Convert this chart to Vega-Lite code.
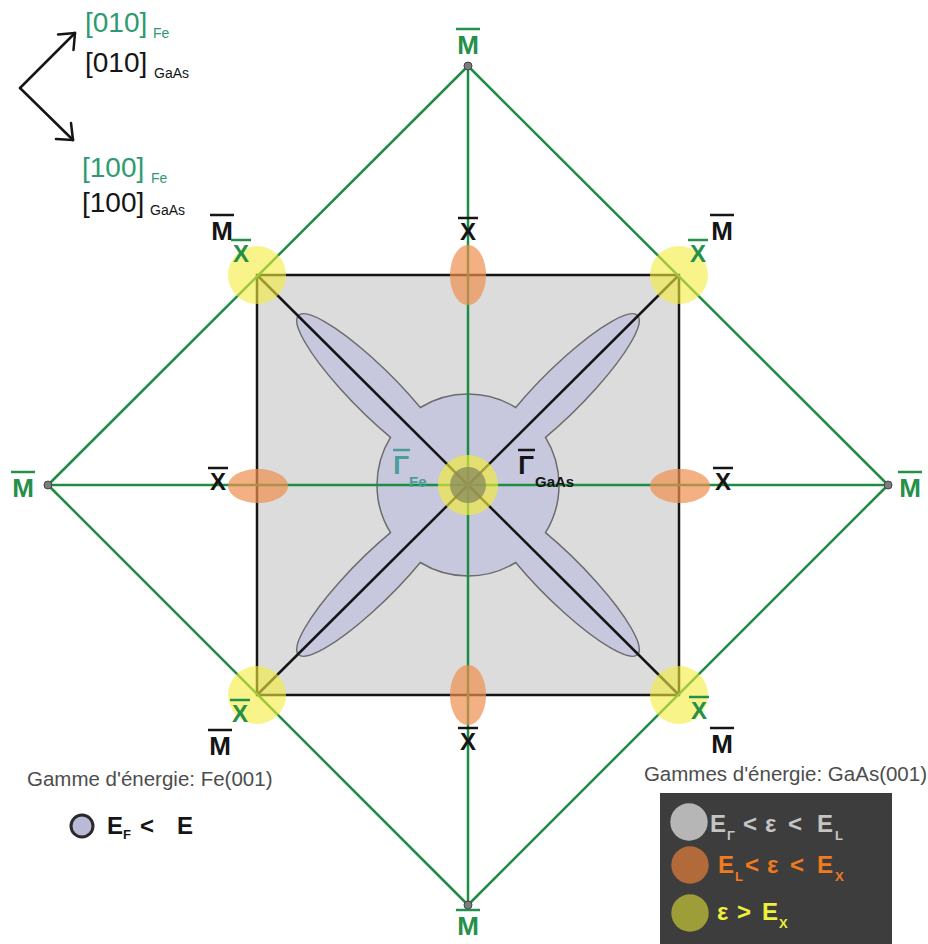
{
  "$schema": "https://vega.github.io/schema/vega-lite/v6.json",
  "width": 928,
  "height": 944,
  "padding": 0,
  "autosize": {"type": "none"},
  "background": "white",
  "config": {"view": {"stroke": null}, "text": {"font": "Liberation Sans"}},
  "datasets": {
    "square": [{"x": -211, "y": 210, "x2": 211, "y2": -210}],
    "lines": [
      {"x": 0, "y": 419, "x2": 420, "y2": 0, "set": "Fe"},
      {"x": 420, "y": 0, "x2": 0, "y2": -420, "set": "Fe"},
      {"x": 0, "y": -420, "x2": -420, "y2": 0, "set": "Fe"},
      {"x": -420, "y": 0, "x2": 0, "y2": 419, "set": "Fe"},
      {"x": -420, "y": 0, "x2": 420, "y2": 0, "set": "Fe"},
      {"x": 0, "y": 419, "x2": 0, "y2": -420, "set": "Fe"},
      {"x": -211, "y": 210, "x2": 211, "y2": -210, "set": "GaAs"},
      {"x": 211, "y": 210, "x2": -211, "y2": -210, "set": "GaAs"},
      {"x": -448, "y": 397, "x2": -393, "y2": 452, "set": "arrow"},
      {"x": -393, "y": 452, "x2": -410, "y2": 450.5, "set": "arrow"},
      {"x": -393, "y": 452, "x2": -394.5, "y2": 435, "set": "arrow"},
      {"x": -448, "y": 397, "x2": -395, "y2": 345, "set": "arrow"},
      {"x": -395, "y": 345, "x2": -412, "y2": 346, "set": "arrow"},
      {"x": -395, "y": 345, "x2": -397, "y2": 362, "set": "arrow"}
    ],
    "spots": [
      {"x": 0, "y": 0, "kind": "flower"},
      {"x": -211, "y": 210, "kind": "corner"},
      {"x": 211, "y": 210, "kind": "corner"},
      {"x": -211, "y": -210, "kind": "corner"},
      {"x": 211, "y": -210, "kind": "corner"},
      {"x": 0, "y": 210, "kind": "ellV"},
      {"x": 0, "y": -210, "kind": "ellV"},
      {"x": -210, "y": -1, "kind": "ellH"},
      {"x": 212, "y": -1, "kind": "ellH"},
      {"x": 0, "y": 0, "kind": "centre"},
      {"x": 0, "y": 419, "kind": "M"},
      {"x": 0, "y": -420, "kind": "M"},
      {"x": -420, "y": 0, "kind": "M"},
      {"x": 420, "y": 0, "kind": "M"}
    ],
    "labels": [
      {"x": 0, "y": 439, "text": "M", "type": "M", "tone": "Fe"},
      {"x": 0, "y": -442, "text": "M", "type": "M", "tone": "Fe"},
      {"x": -445, "y": -4, "text": "M", "type": "M", "tone": "Fe"},
      {"x": 442, "y": -4, "text": "M", "type": "M", "tone": "Fe"},
      {"x": -246, "y": 253, "text": "M", "type": "M", "tone": "GaAs"},
      {"x": 254, "y": 253, "text": "M", "type": "M", "tone": "GaAs"},
      {"x": -248, "y": -262, "text": "M", "type": "M", "tone": "GaAs"},
      {"x": 254, "y": -260, "text": "M", "type": "M", "tone": "GaAs"},
      {"x": 0, "y": 252, "text": "X", "type": "X", "tone": "GaAs"},
      {"x": 0, "y": -258, "text": "X", "type": "X", "tone": "GaAs"},
      {"x": -250, "y": 2, "text": "X", "type": "X", "tone": "GaAs"},
      {"x": 255, "y": 2, "text": "X", "type": "X", "tone": "GaAs"},
      {"x": -227, "y": 230, "text": "X", "type": "X", "tone": "Fe"},
      {"x": 230, "y": 230, "text": "X", "type": "X", "tone": "Fe"},
      {"x": -228, "y": -230, "text": "X", "type": "X", "tone": "Fe"},
      {"x": 231, "y": -227, "text": "X", "type": "X", "tone": "Fe"},
      {"x": -67, "y": 19, "text": "Γ", "type": "G", "tone": "gamma"},
      {"x": 58, "y": 19, "text": "Γ", "type": "G", "tone": "GaAs"}
    ],
    "dirTexts": [
      {"x": -383, "y": 453, "text": "[010]", "tone": "FeDir", "level": "dir"},
      {"x": -315, "y": 447, "text": "Fe", "tone": "FeDir", "level": "sub"},
      {"x": -383, "y": 413, "text": "[010]", "tone": "GaAs", "level": "dir"},
      {"x": -314, "y": 407, "text": "GaAs", "tone": "GaAs", "level": "sub"},
      {"x": -386, "y": 308, "text": "[100]", "tone": "FeDir", "level": "dir"},
      {"x": -317, "y": 302, "text": "Fe", "tone": "FeDir", "level": "sub"},
      {"x": -386, "y": 273, "text": "[100]", "tone": "GaAs", "level": "dir"},
      {"x": -318, "y": 270, "text": "GaAs", "tone": "GaAs", "level": "sub"}
    ],
    "captions": [
      {"x": -441, "y": -301, "text": "Gamme d'énergie: Fe(001)", "side": "Fe"},
      {"x": 459, "y": -296, "text": "Gammes d'énergie: GaAs(001)", "side": "GaAs"}
    ],
    "boldTexts": [
      {"x": -59, "y": -2, "text": "Fe", "tone": "gamma", "level": "gsub"},
      {"x": 67, "y": -2, "text": "GaAs", "tone": "GaAs", "level": "gsub"},
      {"x": -361, "y": -349, "text": "E", "tone": "GaAs", "level": "key"},
      {"x": -345, "y": -354, "text": "F", "tone": "GaAs", "level": "sub"},
      {"x": -328, "y": -349, "text": "<", "tone": "GaAs", "level": "key"},
      {"x": -291, "y": -349, "text": "E", "tone": "GaAs", "level": "key"},
      {"x": 242, "y": -347, "text": "E", "tone": "light", "level": "key"},
      {"x": 259, "y": -355, "text": "Γ", "tone": "light", "level": "sub"},
      {"x": 275, "y": -347, "text": "<", "tone": "light", "level": "key"},
      {"x": 297, "y": -347, "text": "ε", "tone": "light", "level": "key"},
      {"x": 320, "y": -347, "text": "<", "tone": "light", "level": "key"},
      {"x": 349, "y": -347, "text": "E", "tone": "light", "level": "key"},
      {"x": 367, "y": -355, "text": "L", "tone": "light", "level": "sub"},
      {"x": 250, "y": -388, "text": "E", "tone": "orange", "level": "key"},
      {"x": 267, "y": -396, "text": "L", "tone": "orange", "level": "sub"},
      {"x": 277, "y": -388, "text": "<", "tone": "orange", "level": "key"},
      {"x": 299, "y": -388, "text": "ε", "tone": "orange", "level": "key"},
      {"x": 322, "y": -388, "text": "<", "tone": "orange", "level": "key"},
      {"x": 349, "y": -388, "text": "E", "tone": "orange", "level": "key"},
      {"x": 367, "y": -396, "text": "X", "tone": "orange", "level": "sub"},
      {"x": 249, "y": -435, "text": "ε", "tone": "yellow", "level": "key"},
      {"x": 269, "y": -435, "text": ">", "tone": "yellow", "level": "key"},
      {"x": 294, "y": -435, "text": "E", "tone": "yellow", "level": "key"},
      {"x": 311, "y": -443, "text": "X", "tone": "yellow", "level": "sub"}
    ],
    "box": [{"x": 192, "y": -308, "x2": 424, "y2": -459}],
    "keys": [
      {"x": -386, "y": -341, "kind": "Fe"},
      {"x": 221, "y": -337, "kind": "r1"},
      {"x": 222, "y": -380, "kind": "r2"},
      {"x": 222, "y": -428, "kind": "r3"}
    ]
  },
  "layer": [
    {
      "data": {"name": "square"},
      "mark": {"type": "rect", "fill": "#dcdcdc", "stroke": "#151515", "strokeWidth": 2.5},
      "encoding": {
        "x": {"field": "x", "type": "quantitative", "scale": {"domain": [-468, 460], "nice": false, "zero": false}, "axis": null},
        "y": {"field": "y", "type": "quantitative", "scale": {"domain": [-459, 485], "nice": false, "zero": false}, "axis": null},
        "x2": {"field": "x2"},
        "y2": {"field": "y2"}
      }
    },
    {
      "data": {"name": "spots"},
      "transform": [{"filter": "datum.kind === 'flower'"}],
      "mark": {"type": "point", "shape": "M 47.7 77.5 A 91 91 0 0 1 -47.7 77.5 A 108 23 135 1 1 -77.5 47.7 A 91 91 0 0 1 -77.5 -47.7 A 108 23 225 1 1 -47.7 -77.5 A 91 91 0 0 1 47.7 -77.5 A 108 23 315 1 1 77.5 -47.7 A 91 91 0 0 1 77.5 47.7 A 108 23 45 1 1 47.7 77.5 Z", "size": 4, "filled": true, "fill": "#c7c7dd", "stroke": "#6c6c6c", "strokeWidth": 1.5, "opacity": 1},
      "encoding": {
        "x": {"field": "x", "type": "quantitative", "scale": {"domain": [-468, 460], "nice": false, "zero": false}, "axis": null},
        "y": {"field": "y", "type": "quantitative", "scale": {"domain": [-459, 485], "nice": false, "zero": false}, "axis": null}
      }
    },
    {
      "data": {"name": "lines"},
      "transform": [{"filter": "datum.set === 'GaAs'"}],
      "mark": {"type": "rule", "stroke": "#151515", "strokeWidth": 2.5},
      "encoding": {
        "x": {"field": "x", "type": "quantitative", "scale": {"domain": [-468, 460], "nice": false, "zero": false}, "axis": null},
        "y": {"field": "y", "type": "quantitative", "scale": {"domain": [-459, 485], "nice": false, "zero": false}, "axis": null},
        "x2": {"field": "x2"},
        "y2": {"field": "y2"}
      }
    },
    {
      "data": {"name": "lines"},
      "transform": [{"filter": "datum.set === 'Fe'"}],
      "mark": {"type": "rule", "stroke": "#1f8c44", "strokeWidth": 2.5},
      "encoding": {
        "x": {"field": "x", "type": "quantitative", "scale": {"domain": [-468, 460], "nice": false, "zero": false}, "axis": null},
        "y": {"field": "y", "type": "quantitative", "scale": {"domain": [-459, 485], "nice": false, "zero": false}, "axis": null},
        "x2": {"field": "x2"},
        "y2": {"field": "y2"}
      }
    },
    {
      "data": {"name": "spots"},
      "transform": [{"filter": "datum.kind === 'corner'"}],
      "mark": {"type": "point", "shape": "circle", "size": 3364, "filled": true, "fill": "#f3ec3a", "strokeWidth": 0, "opacity": 0.6},
      "encoding": {
        "x": {"field": "x", "type": "quantitative", "scale": {"domain": [-468, 460], "nice": false, "zero": false}, "axis": null},
        "y": {"field": "y", "type": "quantitative", "scale": {"domain": [-459, 485], "nice": false, "zero": false}, "axis": null}
      }
    },
    {
      "data": {"name": "spots"},
      "transform": [{"filter": "datum.kind === 'ellV'"}],
      "mark": {"type": "point", "shape": "M 0 -30 A 18 30 0 1 1 0 30 A 18 30 0 1 1 0 -30 Z", "size": 4, "filled": true, "fill": "#ee8e4e", "strokeWidth": 0, "opacity": 0.7},
      "encoding": {
        "x": {"field": "x", "type": "quantitative", "scale": {"domain": [-468, 460], "nice": false, "zero": false}, "axis": null},
        "y": {"field": "y", "type": "quantitative", "scale": {"domain": [-459, 485], "nice": false, "zero": false}, "axis": null}
      }
    },
    {
      "data": {"name": "spots"},
      "transform": [{"filter": "datum.kind === 'ellH'"}],
      "mark": {"type": "point", "shape": "M -30 0 A 30 17 0 1 1 30 0 A 30 17 0 1 1 -30 0 Z", "size": 4, "filled": true, "fill": "#ee8e4e", "strokeWidth": 0, "opacity": 0.7},
      "encoding": {
        "x": {"field": "x", "type": "quantitative", "scale": {"domain": [-468, 460], "nice": false, "zero": false}, "axis": null},
        "y": {"field": "y", "type": "quantitative", "scale": {"domain": [-459, 485], "nice": false, "zero": false}, "axis": null}
      }
    },
    {
      "data": {"name": "spots"},
      "transform": [{"filter": "datum.kind === 'centre'"}],
      "mark": {"type": "point", "shape": "circle", "size": 3600, "filled": true, "fill": "#f3ec3a", "strokeWidth": 0, "opacity": 0.65},
      "encoding": {
        "x": {"field": "x", "type": "quantitative", "scale": {"domain": [-468, 460], "nice": false, "zero": false}, "axis": null},
        "y": {"field": "y", "type": "quantitative", "scale": {"domain": [-459, 485], "nice": false, "zero": false}, "axis": null}
      }
    },
    {
      "data": {"name": "spots"},
      "transform": [{"filter": "datum.kind === 'centre'"}],
      "mark": {"type": "point", "shape": "circle", "size": 1296, "filled": true, "fill": "#8a8a5c", "strokeWidth": 0, "opacity": 0.75},
      "encoding": {
        "x": {"field": "x", "type": "quantitative", "scale": {"domain": [-468, 460], "nice": false, "zero": false}, "axis": null},
        "y": {"field": "y", "type": "quantitative", "scale": {"domain": [-459, 485], "nice": false, "zero": false}, "axis": null}
      }
    },
    {
      "data": {"name": "spots"},
      "transform": [{"filter": "datum.kind === 'M'"}],
      "mark": {"type": "point", "shape": "circle", "size": 64, "filled": true, "fill": "#7c7c7c", "stroke": "#444444", "strokeWidth": 1, "opacity": 1},
      "encoding": {
        "x": {"field": "x", "type": "quantitative", "scale": {"domain": [-468, 460], "nice": false, "zero": false}, "axis": null},
        "y": {"field": "y", "type": "quantitative", "scale": {"domain": [-459, 485], "nice": false, "zero": false}, "axis": null}
      }
    },
    {
      "data": {"name": "lines"},
      "transform": [{"filter": "datum.set === 'arrow'"}],
      "mark": {"type": "rule", "stroke": "#151515", "strokeWidth": 2.5, "strokeCap": "round"},
      "encoding": {
        "x": {"field": "x", "type": "quantitative", "scale": {"domain": [-468, 460], "nice": false, "zero": false}, "axis": null},
        "y": {"field": "y", "type": "quantitative", "scale": {"domain": [-459, 485], "nice": false, "zero": false}, "axis": null},
        "x2": {"field": "x2"},
        "y2": {"field": "y2"}
      }
    },
    {
      "data": {"name": "labels"},
      "transform": [{"filter": "datum.type === 'M'"}],
      "mark": {"type": "text", "font": "Liberation Sans", "fontWeight": "bold", "fontSize": 26, "align": "center", "baseline": "middle"},
      "encoding": {
        "x": {"field": "x", "type": "quantitative", "scale": {"domain": [-468, 460], "nice": false, "zero": false}, "axis": null},
        "y": {"field": "y", "type": "quantitative", "scale": {"domain": [-459, 485], "nice": false, "zero": false}, "axis": null},
        "text": {"field": "text"},
        "color": {"field": "tone", "type": "nominal", "scale": {"domain": ["Fe", "FeDir", "GaAs", "gamma", "caption", "light", "orange", "yellow"], "range": ["#24904a", "#2e9a70", "#151515", "#4a9e9a", "#4d4d4d", "#c4c4c4", "#f07a1e", "#eef03c"]}, "legend": null}
      }
    },
    {
      "data": {"name": "labels"},
      "transform": [{"filter": "datum.type === 'M'"}],
      "mark": {"type": "rule", "strokeWidth": 2.5, "xOffset": -12, "x2Offset": 12, "yOffset": -17},
      "encoding": {
        "x": {"field": "x", "type": "quantitative", "scale": {"domain": [-468, 460], "nice": false, "zero": false}, "axis": null},
        "x2": {"field": "x"},
        "y": {"field": "y", "type": "quantitative", "scale": {"domain": [-459, 485], "nice": false, "zero": false}, "axis": null},
        "color": {"field": "tone", "type": "nominal", "scale": {"domain": ["Fe", "FeDir", "GaAs", "gamma", "caption", "light", "orange", "yellow"], "range": ["#24904a", "#2e9a70", "#151515", "#4a9e9a", "#4d4d4d", "#c4c4c4", "#f07a1e", "#eef03c"]}, "legend": null}
      }
    },
    {
      "data": {"name": "labels"},
      "transform": [{"filter": "datum.type === 'X'"}],
      "mark": {"type": "text", "font": "Liberation Sans", "fontWeight": "bold", "fontSize": 24, "align": "center", "baseline": "middle"},
      "encoding": {
        "x": {"field": "x", "type": "quantitative", "scale": {"domain": [-468, 460], "nice": false, "zero": false}, "axis": null},
        "y": {"field": "y", "type": "quantitative", "scale": {"domain": [-459, 485], "nice": false, "zero": false}, "axis": null},
        "text": {"field": "text"},
        "color": {"field": "tone", "type": "nominal", "scale": {"domain": ["Fe", "FeDir", "GaAs", "gamma", "caption", "light", "orange", "yellow"], "range": ["#24904a", "#2e9a70", "#151515", "#4a9e9a", "#4d4d4d", "#c4c4c4", "#f07a1e", "#eef03c"]}, "legend": null}
      }
    },
    {
      "data": {"name": "labels"},
      "transform": [{"filter": "datum.type === 'X'"}],
      "mark": {"type": "rule", "strokeWidth": 2.5, "xOffset": -10, "x2Offset": 10, "yOffset": -15},
      "encoding": {
        "x": {"field": "x", "type": "quantitative", "scale": {"domain": [-468, 460], "nice": false, "zero": false}, "axis": null},
        "x2": {"field": "x"},
        "y": {"field": "y", "type": "quantitative", "scale": {"domain": [-459, 485], "nice": false, "zero": false}, "axis": null},
        "color": {"field": "tone", "type": "nominal", "scale": {"domain": ["Fe", "FeDir", "GaAs", "gamma", "caption", "light", "orange", "yellow"], "range": ["#24904a", "#2e9a70", "#151515", "#4a9e9a", "#4d4d4d", "#c4c4c4", "#f07a1e", "#eef03c"]}, "legend": null}
      }
    },
    {
      "data": {"name": "labels"},
      "transform": [{"filter": "datum.type === 'G'"}],
      "mark": {"type": "text", "font": "Liberation Sans", "fontWeight": "bold", "fontSize": 26, "align": "center", "baseline": "middle"},
      "encoding": {
        "x": {"field": "x", "type": "quantitative", "scale": {"domain": [-468, 460], "nice": false, "zero": false}, "axis": null},
        "y": {"field": "y", "type": "quantitative", "scale": {"domain": [-459, 485], "nice": false, "zero": false}, "axis": null},
        "text": {"field": "text"},
        "color": {"field": "tone", "type": "nominal", "scale": {"domain": ["Fe", "FeDir", "GaAs", "gamma", "caption", "light", "orange", "yellow"], "range": ["#24904a", "#2e9a70", "#151515", "#4a9e9a", "#4d4d4d", "#c4c4c4", "#f07a1e", "#eef03c"]}, "legend": null}
      }
    },
    {
      "data": {"name": "labels"},
      "transform": [{"filter": "datum.type === 'G'"}],
      "mark": {"type": "rule", "strokeWidth": 2.5, "xOffset": -8, "x2Offset": 9, "yOffset": -16},
      "encoding": {
        "x": {"field": "x", "type": "quantitative", "scale": {"domain": [-468, 460], "nice": false, "zero": false}, "axis": null},
        "x2": {"field": "x"},
        "y": {"field": "y", "type": "quantitative", "scale": {"domain": [-459, 485], "nice": false, "zero": false}, "axis": null},
        "color": {"field": "tone", "type": "nominal", "scale": {"domain": ["Fe", "FeDir", "GaAs", "gamma", "caption", "light", "orange", "yellow"], "range": ["#24904a", "#2e9a70", "#151515", "#4a9e9a", "#4d4d4d", "#c4c4c4", "#f07a1e", "#eef03c"]}, "legend": null}
      }
    },
    {
      "data": {"name": "dirTexts"},
      "transform": [{"filter": "datum.level === 'dir'"}],
      "mark": {"type": "text", "font": "Liberation Sans", "fontSize": 28, "align": "left", "baseline": "alphabetic"},
      "encoding": {
        "x": {"field": "x", "type": "quantitative", "scale": {"domain": [-468, 460], "nice": false, "zero": false}, "axis": null},
        "y": {"field": "y", "type": "quantitative", "scale": {"domain": [-459, 485], "nice": false, "zero": false}, "axis": null},
        "text": {"field": "text"},
        "color": {"field": "tone", "type": "nominal", "scale": {"domain": ["Fe", "FeDir", "GaAs", "gamma", "caption", "light", "orange", "yellow"], "range": ["#24904a", "#2e9a70", "#151515", "#4a9e9a", "#4d4d4d", "#c4c4c4", "#f07a1e", "#eef03c"]}, "legend": null}
      }
    },
    {
      "data": {"name": "dirTexts"},
      "transform": [{"filter": "datum.level === 'sub'"}],
      "mark": {"type": "text", "font": "Liberation Sans", "fontSize": 14, "align": "left", "baseline": "alphabetic"},
      "encoding": {
        "x": {"field": "x", "type": "quantitative", "scale": {"domain": [-468, 460], "nice": false, "zero": false}, "axis": null},
        "y": {"field": "y", "type": "quantitative", "scale": {"domain": [-459, 485], "nice": false, "zero": false}, "axis": null},
        "text": {"field": "text"},
        "color": {"field": "tone", "type": "nominal", "scale": {"domain": ["Fe", "FeDir", "GaAs", "gamma", "caption", "light", "orange", "yellow"], "range": ["#24904a", "#2e9a70", "#151515", "#4a9e9a", "#4d4d4d", "#c4c4c4", "#f07a1e", "#eef03c"]}, "legend": null}
      }
    },
    {
      "data": {"name": "captions"},
      "transform": [{"filter": "datum.side === 'Fe'"}],
      "mark": {"type": "text", "font": "Liberation Sans", "fontSize": 20.5, "align": "left", "baseline": "alphabetic", "fill": "#4d4d4d"},
      "encoding": {
        "x": {"field": "x", "type": "quantitative", "scale": {"domain": [-468, 460], "nice": false, "zero": false}, "axis": null},
        "y": {"field": "y", "type": "quantitative", "scale": {"domain": [-459, 485], "nice": false, "zero": false}, "axis": null},
        "text": {"field": "text"}
      }
    },
    {
      "data": {"name": "captions"},
      "transform": [{"filter": "datum.side === 'GaAs'"}],
      "mark": {"type": "text", "font": "Liberation Sans", "fontSize": 20.5, "align": "right", "baseline": "alphabetic", "fill": "#4d4d4d"},
      "encoding": {
        "x": {"field": "x", "type": "quantitative", "scale": {"domain": [-468, 460], "nice": false, "zero": false}, "axis": null},
        "y": {"field": "y", "type": "quantitative", "scale": {"domain": [-459, 485], "nice": false, "zero": false}, "axis": null},
        "text": {"field": "text"}
      }
    },
    {
      "data": {"name": "box"},
      "mark": {"type": "rect", "fill": "#3d3d3d"},
      "encoding": {
        "x": {"field": "x", "type": "quantitative", "scale": {"domain": [-468, 460], "nice": false, "zero": false}, "axis": null},
        "y": {"field": "y", "type": "quantitative", "scale": {"domain": [-459, 485], "nice": false, "zero": false}, "axis": null},
        "x2": {"field": "x2"},
        "y2": {"field": "y2"}
      }
    },
    {
      "data": {"name": "keys"},
      "transform": [{"filter": "datum.kind === 'Fe'"}],
      "mark": {"type": "point", "shape": "circle", "size": 484, "filled": true, "fill": "#babad8", "stroke": "#2a2a2a", "strokeWidth": 3, "opacity": 1},
      "encoding": {
        "x": {"field": "x", "type": "quantitative", "scale": {"domain": [-468, 460], "nice": false, "zero": false}, "axis": null},
        "y": {"field": "y", "type": "quantitative", "scale": {"domain": [-459, 485], "nice": false, "zero": false}, "axis": null}
      }
    },
    {
      "data": {"name": "keys"},
      "transform": [{"filter": "datum.kind !== 'Fe'"}],
      "mark": {"type": "point", "shape": "circle", "size": 1400, "filled": true, "strokeWidth": 0, "opacity": 1},
      "encoding": {
        "x": {"field": "x", "type": "quantitative", "scale": {"domain": [-468, 460], "nice": false, "zero": false}, "axis": null},
        "y": {"field": "y", "type": "quantitative", "scale": {"domain": [-459, 485], "nice": false, "zero": false}, "axis": null},
        "fill": {"field": "kind", "type": "nominal", "scale": {"domain": ["r1", "r2", "r3"], "range": ["#b6b6b6", "#b36a3a", "#9e9e38"]}, "legend": null}
      }
    },
    {
      "data": {"name": "boldTexts"},
      "transform": [{"filter": "datum.level === 'key'"}],
      "mark": {"type": "text", "font": "Liberation Sans", "fontWeight": "bold", "fontSize": 24, "align": "left", "baseline": "alphabetic"},
      "encoding": {
        "x": {"field": "x", "type": "quantitative", "scale": {"domain": [-468, 460], "nice": false, "zero": false}, "axis": null},
        "y": {"field": "y", "type": "quantitative", "scale": {"domain": [-459, 485], "nice": false, "zero": false}, "axis": null},
        "text": {"field": "text"},
        "color": {"field": "tone", "type": "nominal", "scale": {"domain": ["Fe", "FeDir", "GaAs", "gamma", "caption", "light", "orange", "yellow"], "range": ["#24904a", "#2e9a70", "#151515", "#4a9e9a", "#4d4d4d", "#c4c4c4", "#f07a1e", "#eef03c"]}, "legend": null}
      }
    },
    {
      "data": {"name": "boldTexts"},
      "transform": [{"filter": "datum.level === 'sub'"}],
      "mark": {"type": "text", "font": "Liberation Sans", "fontWeight": "bold", "fontSize": 13, "align": "left", "baseline": "alphabetic"},
      "encoding": {
        "x": {"field": "x", "type": "quantitative", "scale": {"domain": [-468, 460], "nice": false, "zero": false}, "axis": null},
        "y": {"field": "y", "type": "quantitative", "scale": {"domain": [-459, 485], "nice": false, "zero": false}, "axis": null},
        "text": {"field": "text"},
        "color": {"field": "tone", "type": "nominal", "scale": {"domain": ["Fe", "FeDir", "GaAs", "gamma", "caption", "light", "orange", "yellow"], "range": ["#24904a", "#2e9a70", "#151515", "#4a9e9a", "#4d4d4d", "#c4c4c4", "#f07a1e", "#eef03c"]}, "legend": null}
      }
    },
    {
      "data": {"name": "boldTexts"},
      "transform": [{"filter": "datum.level === 'gsub'"}],
      "mark": {"type": "text", "font": "Liberation Sans", "fontWeight": "bold", "fontSize": 15, "align": "left", "baseline": "alphabetic"},
      "encoding": {
        "x": {"field": "x", "type": "quantitative", "scale": {"domain": [-468, 460], "nice": false, "zero": false}, "axis": null},
        "y": {"field": "y", "type": "quantitative", "scale": {"domain": [-459, 485], "nice": false, "zero": false}, "axis": null},
        "text": {"field": "text"},
        "color": {"field": "tone", "type": "nominal", "scale": {"domain": ["Fe", "FeDir", "GaAs", "gamma", "caption", "light", "orange", "yellow"], "range": ["#24904a", "#2e9a70", "#151515", "#4a9e9a", "#4d4d4d", "#c4c4c4", "#f07a1e", "#eef03c"]}, "legend": null}
      }
    }
  ]
}
